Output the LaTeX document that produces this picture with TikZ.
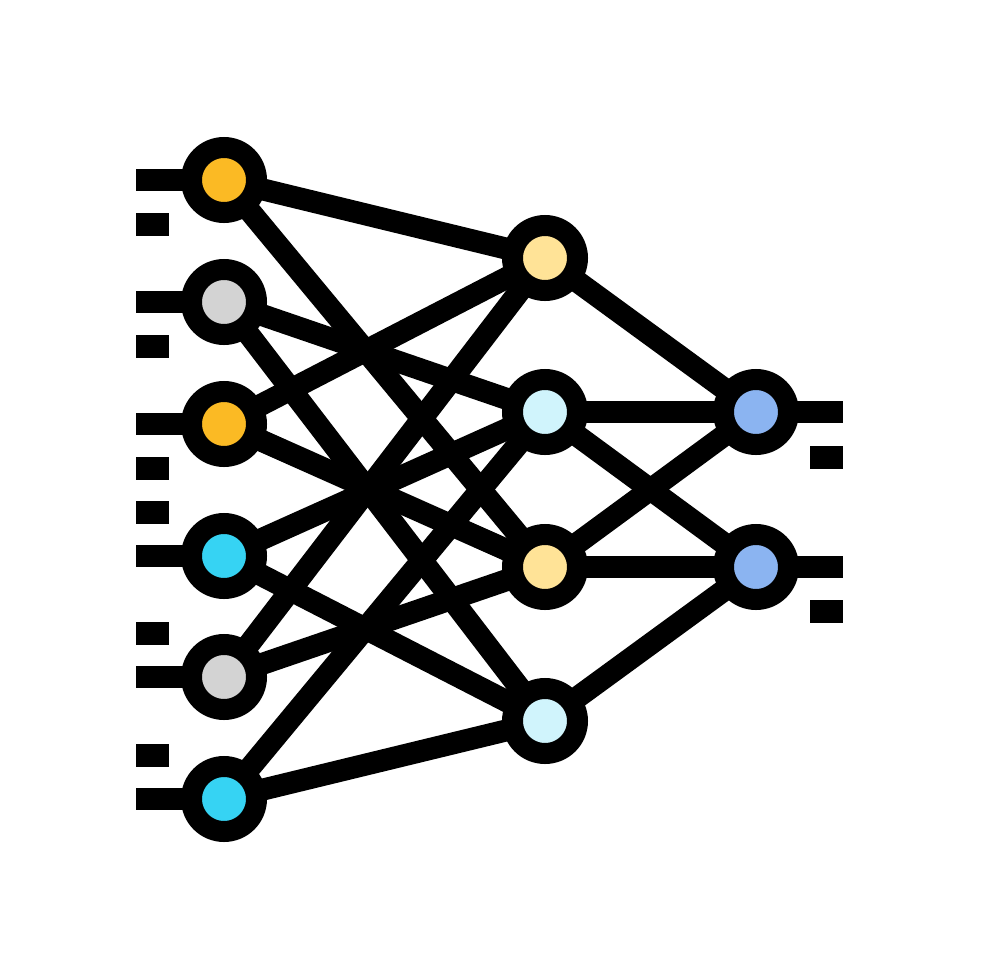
\documentclass[tikz,border=0pt]{standalone}
\usetikzlibrary{backgrounds}
\definecolor{corange}{HTML}{FBBA24}
\definecolor{cgray}{HTML}{D3D3D3}
\definecolor{ccyan}{HTML}{36D3F3}
\definecolor{cyel}{HTML}{FFE397}
\definecolor{clcyan}{HTML}{D0F4FC}
\definecolor{cblue}{HTML}{8BB4F1}
\tikzset{
  neuron/.style={circle, draw=black, line width=21pt, minimum size=65pt, inner sep=0pt, outer sep=0pt},
  wire/.style={draw=black, line width=22pt, line cap=butt},
  tick/.style={fill=black}
}
\begin{document}
\begin{tikzpicture}[x=1pt,y=-1pt]
\useasboundingbox (0,0) rectangle (980,980);
% left layer
\node[neuron, fill=corange] (L1) at (224,180) {};
\node[neuron, fill=cgray]   (L2) at (224,302) {};
\node[neuron, fill=corange] (L3) at (224,424) {};
\node[neuron, fill=ccyan]   (L4) at (224,556) {};
\node[neuron, fill=cgray]   (L5) at (224,677) {};
\node[neuron, fill=ccyan]   (L6) at (224,799) {};
% middle layer
\node[neuron, fill=cyel]   (M1) at (545,258) {};
\node[neuron, fill=clcyan] (M2) at (545,412) {};
\node[neuron, fill=cyel]   (M3) at (545,567) {};
\node[neuron, fill=clcyan] (M4) at (545,721) {};
% right layer
\node[neuron, fill=cblue] (R1) at (756,412) {};
\node[neuron, fill=cblue] (R2) at (756,567) {};
% stub ends
\coordinate (s1) at (136,180);
\coordinate (s2) at (136,302);
\coordinate (s3) at (136,424);
\coordinate (s4) at (136,556);
\coordinate (s5) at (136,677);
\coordinate (s6) at (136,799);
\coordinate (t1) at (843,412);
\coordinate (t2) at (843,567);
\begin{scope}[on background layer]
\fill[white] (0,0) rectangle (980,980);
\foreach \i in {1,...,6} \draw[wire] (s\i) -- (L\i.center);
\draw[wire] (R1.center) -- (t1);
\draw[wire] (R2.center) -- (t2);
\foreach \a/\b in {L1/M1,L1/M3,L2/M2,L2/M4,L3/M1,L3/M3,L4/M2,L4/M4,L5/M1,L5/M3,L6/M2,L6/M4,
                   M1/R1,M2/R1,M2/R2,M3/R1,M3/R2,M4/R2}
  \draw[wire] (\a.center) -- (\b.center);
\end{scope}
% dashes
\foreach \y in {224.5,346,468,512,633,755}
  \fill[tick] (136,\y-11.5) rectangle (169,\y+11.5);
\foreach \y in {457,611}
  \fill[tick] (810,\y-11.5) rectangle (843,\y+11.5);
\end{tikzpicture}
\end{document}
